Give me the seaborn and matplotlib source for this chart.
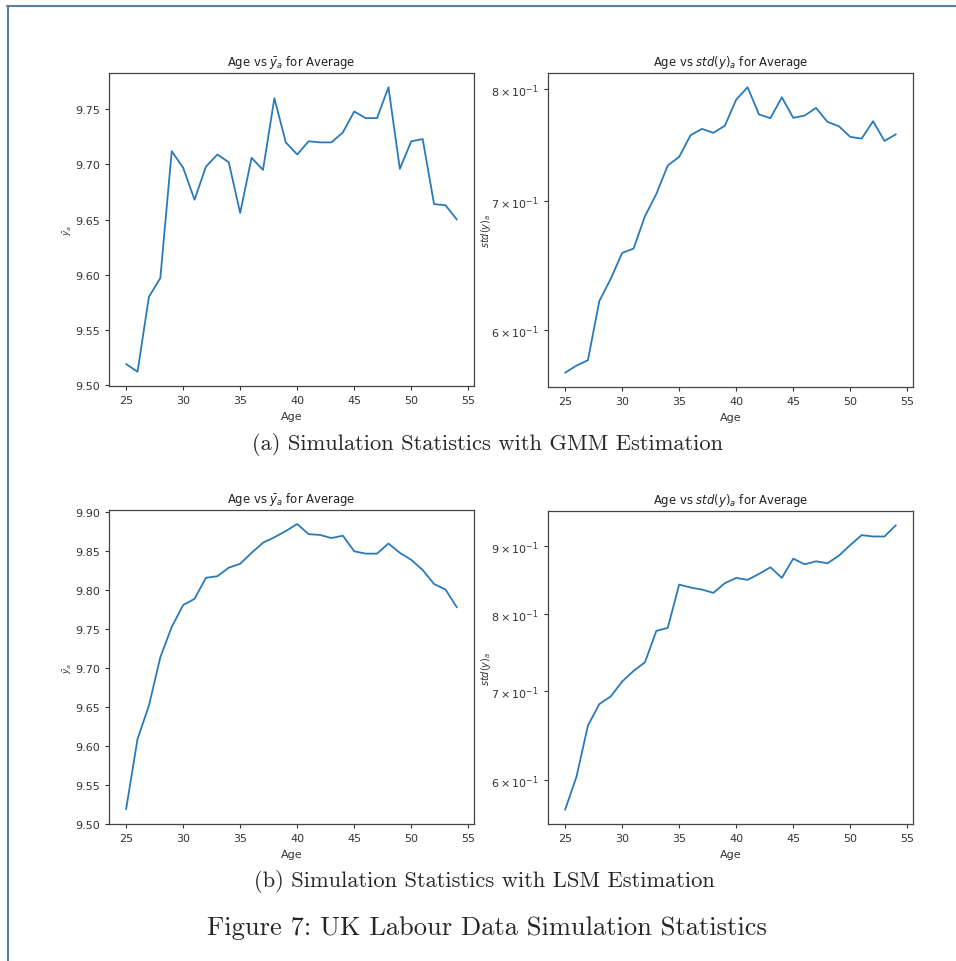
import numpy as np
import pandas as pd
import matplotlib
matplotlib.use("Agg")
import matplotlib.pyplot as plt
from matplotlib.lines import Line2D
import seaborn as sns

# Simulation statistics by age
ages = list(range(25, 55))

gmm_mean = [9.519, 9.512, 9.580, 9.597, 9.712, 9.697, 9.668, 9.698, 9.709, 9.702,
            9.656, 9.706, 9.695, 9.760, 9.720, 9.709, 9.721, 9.720, 9.720, 9.729,
            9.748, 9.742, 9.742, 9.770, 9.696, 9.721, 9.723, 9.664, 9.663, 9.650]
gmm_std = [0.5703, 0.5752, 0.5789, 0.6212, 0.6379, 0.6579, 0.6613, 0.6873, 0.7059, 0.7302,
           0.7378, 0.7571, 0.7628, 0.7592, 0.7656, 0.7899, 0.8016, 0.7760, 0.7726, 0.7921,
           0.7729, 0.7750, 0.7821, 0.7692, 0.7652, 0.7555, 0.7540, 0.7698, 0.7519, 0.7579]

lsm_mean = [9.519, 9.609, 9.652, 9.714, 9.753, 9.781, 9.789, 9.816, 9.818, 9.829,
            9.834, 9.848, 9.861, 9.868, 9.876, 9.885, 9.872, 9.871, 9.867, 9.870,
            9.850, 9.847, 9.847, 9.860, 9.848, 9.839, 9.826, 9.808, 9.801, 9.778]
lsm_std = [0.5702, 0.6039, 0.6596, 0.6847, 0.6938, 0.7119, 0.7251, 0.7360, 0.7772, 0.7812,
           0.8420, 0.8377, 0.8348, 0.8300, 0.8440, 0.8518, 0.8489, 0.8577, 0.8676, 0.8518,
           0.8806, 0.8721, 0.8766, 0.8736, 0.8852, 0.9016, 0.9172, 0.9151, 0.9151, 0.9331]

captions = ["(a) Simulation Statistics with GMM Estimation",
            "(b) Simulation Statistics with LSM Estimation"]
fig_caption = "Figure 7: UK Labour Data Simulation Statistics"

sns.set_style("ticks")
plt.rcParams["font.family"] = ["DejaVu Sans"]
plt.rcParams["mathtext.fontset"] = "dejavusans"

W, H = 956, 962
fig = plt.figure(figsize=(W / 100, H / 100), dpi=100)


def px_axes(left, top, right, bottom):
    return fig.add_axes([left / W, 1 - bottom / H, (right - left) / W, (bottom - top) / H])


panels = [
    (px_axes(109, 74, 474, 387), gmm_mean, False, None),
    (px_axes(548, 74, 913, 388), gmm_std, True, None),
    (px_axes(109, 511, 474, 825), lsm_mean, False, (9.50, 9.903)),
    (px_axes(548, 512, 913, 825), lsm_std, True, None),
]

text_col = "#333333"
for ax, vals, is_std, ylim in panels:
    df = pd.DataFrame({"Age": ages, "val": vals})
    sns.lineplot(data=df, x="Age", y="val", ax=ax, color="#2a7ab9", linewidth=1.3)
    if is_std:
        ax.set_yscale("log")
        ax.set_title(r"Age vs $std(y)_a$ for Average", fontsize=8.4, color="#222222")
        ax.set_ylabel(r"$std(y)_a$", fontsize=7, color=text_col, labelpad=-1)
    else:
        ax.set_title(r"Age vs $\bar{y}_a$ for Average", fontsize=8.4, color="#222222")
        ax.set_ylabel(r"$\bar{y}_a$", fontsize=6.5, color=text_col, labelpad=1)
    if ylim is not None:
        ax.set_ylim(*ylim)
    ax.set_xlabel("Age", fontsize=8, color=text_col)
    ax.set_xticks([25, 30, 35, 40, 45, 50, 55])
    ax.set_xlim(23.5, 55.5)
    ax.tick_params(axis="both", which="both", labelsize=8, colors=text_col,
                   labelcolor=text_col, length=3, width=0.8)
    for s in ax.spines.values():
        s.set_color("#444444")
        s.set_linewidth(0.9)

# captions in a LaTeX-like serif
fig.text(487 / W, 1 - 445 / H, captions[0], ha="center", va="center",
         fontsize=16.2, family="cmr10")
fig.text(484 / W, 1 - 882 / H, captions[1], ha="center", va="center",
         fontsize=16.2, family="cmr10")
fig.text(487 / W, 1 - 928 / H, fig_caption, ha="center", va="center",
         fontsize=19.1, family="cmr10")

# page frame edges
frame_col = "#5b7ea4"
fig.add_artist(Line2D([7 / W, 1], [1 - 7 / H, 1 - 7 / H], transform=fig.transFigure,
                      color=frame_col, linewidth=1.5))
fig.add_artist(Line2D([7.5 / W, 7.5 / W], [0, 1 - 7 / H], transform=fig.transFigure,
                      color=frame_col, linewidth=1.5))

fig.savefig("out.png", dpi=100)
